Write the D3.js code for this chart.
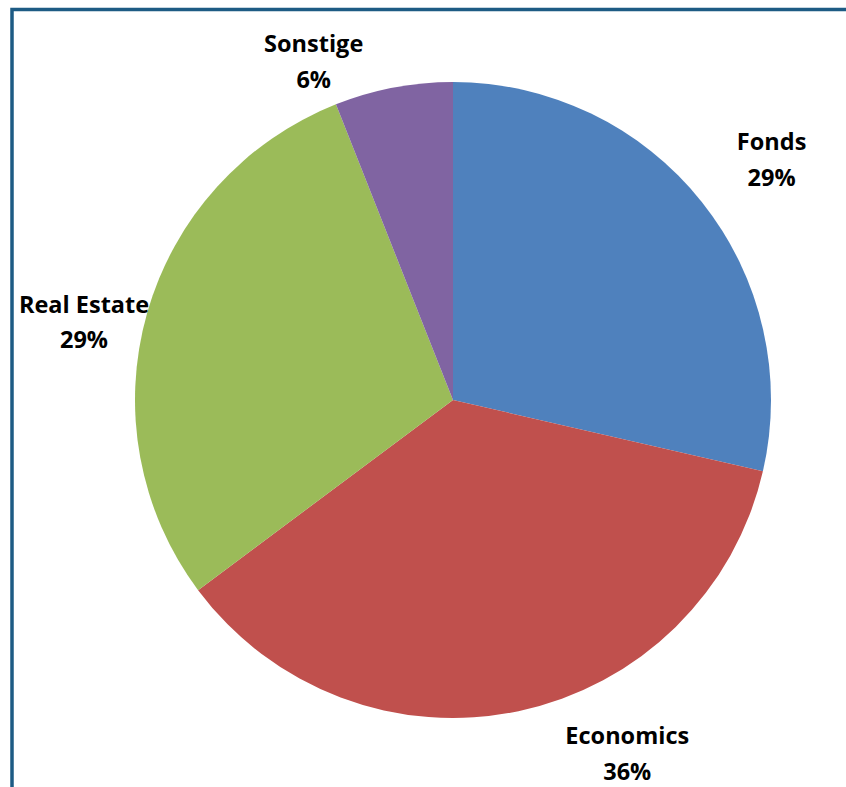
<!DOCTYPE html>
<html>
<head>
<meta charset="utf-8">
<script src="https://cdn.jsdelivr.net/npm/d3@7"></script>
<style>
  html, body { margin: 0; padding: 0; background: #ffffff; }
  svg { display: block; }
  .lbl { font-family: "Open Sans", "Noto Sans", sans-serif; font-weight: 700; font-size: 23.5px; fill: #000; }
</style>
</head>
<body>
<div id="chart"></div>
<script>
// Portfolio split by segment (percent of total)
const categories = ["Fonds", "Economics", "Real Estate", "Sonstige"];
const shares = [28.6, 36.2, 29.2, 6.0];
const colors = ["#4F81BD", "#C0504D", "#9BBB59", "#8064A2"];

const width = 846, height = 787;
const cx = 453, cy = 400, R = 318;

const svg = d3.select("#chart").append("svg")
  .attr("width", width).attr("height", height);

// chart frame (only top and left edges fall inside the view)
svg.append("rect")
  .attr("x", 12).attr("y", 9.5)
  .attr("width", width + 20).attr("height", height + 20)
  .attr("fill", "none")
  .attr("stroke", "#1d5b84")
  .attr("stroke-width", 3.5);

const data = categories.map((c, i) => ({ name: c, value: shares[i], color: colors[i] }));
const total = d3.sum(data, d => d.value);

const pie = d3.pie().sort(null).value(d => d.value);
const arc = d3.arc().innerRadius(0).outerRadius(R);
const labelArc = d3.arc().innerRadius(R * 1.18).outerRadius(R * 1.18);

const g = svg.append("g").attr("transform", `translate(${cx},${cy})`);
const arcs = pie(data);

g.selectAll("path.slice")
  .data(arcs)
  .join("path")
  .attr("class", "slice")
  .attr("d", arc)
  .attr("fill", d => d.data.color);

// outside-end labels, nudged from the slice mid-angle like the spreadsheet layout
const nudge = {
  "Fonds": [25, -16],
  "Economics": [97, -23],
  "Real Estate": [-8, 15],
  "Sonstige": [-69, 21]
};
const fmt = d3.format(".0%");

const labels = g.selectAll("text.lbl")
  .data(arcs)
  .join("text")
  .attr("class", "lbl")
  .attr("text-anchor", "middle")
  .attr("transform", d => {
    const [x, y] = labelArc.centroid(d);
    const [dx, dy] = nudge[d.data.name];
    return `translate(${x + dx},${y + dy})`;
  });

labels.append("tspan").attr("x", 0).attr("y", 0).text(d => d.data.name);
labels.append("tspan").attr("x", 0).attr("y", 35.5).text(d => fmt(d.data.value / total));
</script>
</body>
</html>
